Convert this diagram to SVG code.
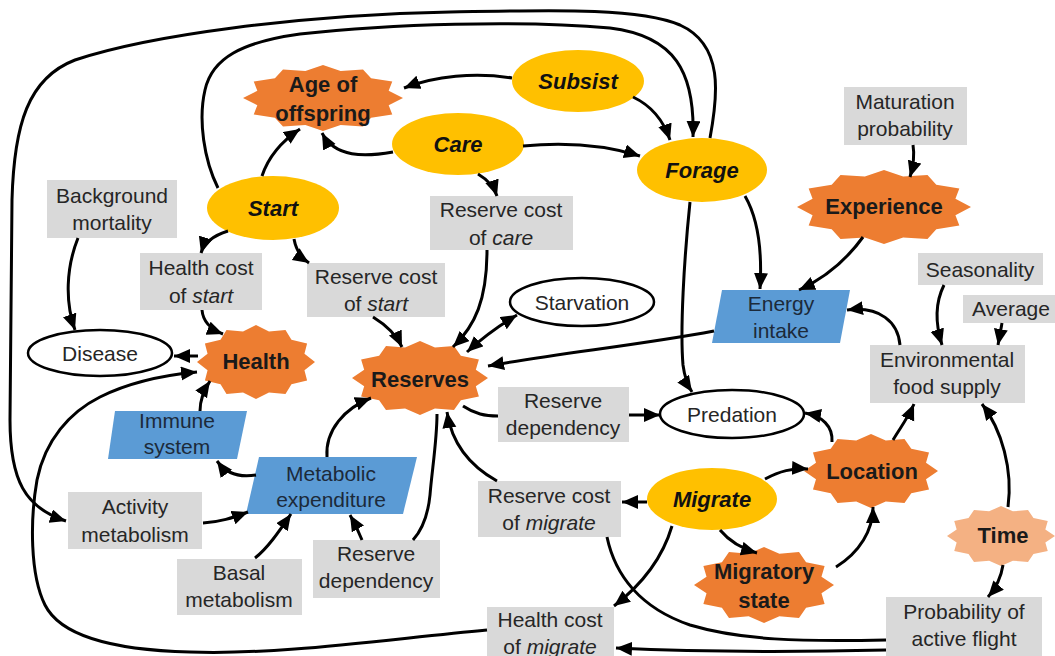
<svg xmlns="http://www.w3.org/2000/svg" xmlns:xlink="http://www.w3.org/1999/xlink" width="1055" height="656" viewBox="0 0 1055 656">
<style>
text{font-family:"Liberation Sans",Arial,sans-serif;font-size:21px;text-anchor:middle;fill:#262626}
.box{fill:#D9D9D9}
.yel{fill:#FFC000}
.org{fill:#ED7D31}
.lorg{fill:#F4B183}
.blue{fill:#5B9BD5}
.wht{fill:#fff;stroke:#000;stroke-width:2.5}
.b{font-weight:bold;fill:#1a1a1a;font-size:22px}
.bi{font-weight:bold;font-style:italic;fill:#111;font-size:22px}
.bt{fill:#1c2a3a}
.c{fill:none;stroke:#000;stroke-width:3}
.a{marker-end:url(#ah)}
.d{marker-start:url(#ah);marker-end:url(#ah)}
</style>
<defs>
<marker id="ah" markerUnits="userSpaceOnUse" markerWidth="17" markerHeight="15" refX="16" refY="7" orient="auto-start-reverse" viewBox="0 0 17 15">
<path d="M0,0 L16,7 L0,14 z" fill="#000"/>
</marker>
<polygon id="star" points="1,0 0.8210,0.2200 0.866,0.5 0.6010,0.6010 0.5,0.866 0.2200,0.8210 0,1 -0.2200,0.8210 -0.5,0.866 -0.6010,0.6010 -0.866,0.5 -0.8210,0.2200 -1,0 -0.8210,-0.2200 -0.866,-0.5 -0.6010,-0.6010 -0.5,-0.866 -0.2200,-0.8210 0,-1 0.2200,-0.8210 0.5,-0.866 0.6010,-0.6010 0.866,-0.5 0.8210,-0.2200"/>
</defs>
<rect width="1055" height="656" fill="#fff"/>

<g id="age-of-offspring"><use xlink:href="#star" class="org" transform="translate(323,98) scale(80,33)"/><text class="b" x="323" y="92">Age of</text><text class="b" x="323" y="121">offspring</text></g>
<g id="subsist"><ellipse class="yel" cx="578" cy="81" rx="66" ry="31"/><text class="bi" x="578" y="89">Subsist</text></g>
<g id="care"><ellipse class="yel" cx="458" cy="144" rx="66" ry="31"/><text class="bi" x="458" y="152">Care</text></g>
<g id="forage"><ellipse class="yel" cx="702" cy="170" rx="65" ry="32"/><text class="bi" x="702" y="178">Forage</text></g>
<g id="start"><ellipse class="yel" cx="273" cy="208" rx="66" ry="32"/><text class="bi" x="273" y="216">Start</text></g>
<g id="migrate"><ellipse class="yel" cx="712" cy="499" rx="65" ry="31"/><text class="bi" x="712" y="507">Migrate</text></g>

<g id="background-mortality"><rect class="box" x="47" y="180" width="130" height="58"/><text x="112" y="203">Background</text><text x="112" y="230">mortality</text></g>
<g id="maturation-probability"><rect class="box" x="844" y="87" width="123" height="58"/><text x="905" y="109">Maturation</text><text x="905" y="136">probability</text></g>
<g id="reserve-cost-care"><rect class="box" x="430" y="196" width="143" height="54"/><text x="501" y="217">Reserve cost</text><text x="501" y="245">of <tspan font-style="italic">care</tspan></text></g>
<g id="health-cost-start"><rect class="box" x="140" y="253" width="122" height="57"/><text x="201" y="275">Health cost</text><text x="201" y="303">of <tspan font-style="italic">start</tspan></text></g>
<g id="reserve-cost-start"><rect class="box" x="307" y="263" width="138" height="54"/><text x="376" y="284">Reserve cost</text><text x="376" y="311">of <tspan font-style="italic">start</tspan></text></g>
<g id="seasonality"><rect class="box" x="918" y="253" width="125" height="32"/><text x="980" y="277">Seasonality</text></g>
<g id="average"><rect class="box" x="963" y="295" width="92" height="28"/><text x="1011" y="316">Average</text></g>
<g id="environmental-food-supply"><rect class="box" x="870" y="345" width="155" height="58"/><text x="947" y="367">Environmental</text><text x="947" y="394">food supply</text></g>
<g id="reserve-dependency-1"><rect class="box" x="498" y="387" width="131" height="55"/><text x="563" y="408">Reserve</text><text x="563" y="435">dependency</text></g>
<g id="reserve-cost-migrate"><rect class="box" x="478" y="481" width="143" height="56"/><text x="549" y="503">Reserve cost</text><text x="549" y="530">of <tspan font-style="italic">migrate</tspan></text></g>
<g id="activity-metabolism"><rect class="box" x="68" y="492" width="134" height="57"/><text x="135" y="514">Activity</text><text x="135" y="542">metabolism</text></g>
<g id="basal-metabolism"><rect class="box" x="177" y="559" width="125" height="56"/><text x="239" y="580">Basal</text><text x="239" y="607">metabolism</text></g>
<g id="reserve-dependency-2"><rect class="box" x="313" y="540" width="127" height="58"/><text x="376" y="561">Reserve</text><text x="376" y="588">dependency</text></g>
<g id="health-cost-migrate"><rect class="box" x="487" y="607" width="127" height="49"/><text x="550" y="627">Health cost</text><text x="550" y="654">of <tspan font-style="italic">migrate</tspan></text></g>
<g id="probability-active-flight"><rect class="box" x="886" y="597" width="156" height="59"/><text x="964" y="619">Probability of</text><text x="964" y="646">active flight</text></g>

<g id="disease"><ellipse class="wht" cx="100" cy="353" rx="72" ry="23"/><text x="100" y="361">Disease</text></g>
<g id="starvation"><ellipse class="wht" cx="582" cy="302" rx="72" ry="24"/><text x="582" y="310">Starvation</text></g>
<g id="predation"><ellipse class="wht" cx="732" cy="414" rx="72" ry="24"/><text x="732" y="422">Predation</text></g>

<g id="experience"><use xlink:href="#star" class="org" transform="translate(884,207) scale(87,37)"/><text class="b" x="884" y="214">Experience</text></g>
<g id="health"><use xlink:href="#star" class="org" transform="translate(256,362) scale(59,37)"/><text class="b" x="256" y="369">Health</text></g>
<g id="reserves"><use xlink:href="#star" class="org" transform="translate(420,378) scale(68,37)"/><text class="b" x="420" y="387">Reserves</text></g>
<g id="location"><use xlink:href="#star" class="org" transform="translate(871,471) scale(67,37)"/><text class="b" x="872" y="479">Location</text></g>
<g id="migratory-state"><use xlink:href="#star" class="org" transform="translate(764,585) scale(70,38)"/><text class="b" x="764" y="579">Migratory</text><text class="b" x="764" y="608">state</text></g>
<g id="time"><use xlink:href="#star" class="lorg" transform="translate(1001,536) scale(54,30)"/><text class="b" x="1003" y="543">Time</text></g>

<g id="energy-intake"><polygon class="blue" points="722,290 850,290 840,343 712,343"/><text class="bt" x="781" y="311">Energy</text><text class="bt" x="781" y="338">intake</text></g>
<g id="immune-system"><polygon class="blue" points="115,411 247,411 237,459 108,459"/><text class="bt" x="177" y="428">Immune</text><text class="bt" x="177" y="454">system</text></g>
<g id="metabolic-expenditure"><polygon class="blue" points="259,457 417,457 403,514 246,514"/><text class="bt" x="331" y="481">Metabolic</text><text class="bt" x="331" y="507">expenditure</text></g>

<g id="connectors">
<path class="c a" d="M512,78 C475,72 435,76 404,88"/>
<path class="c a" d="M633,97 C652,106 664,122 670,140"/>
<path class="c a" d="M393,152 C365,157 335,158 322,133"/>
<path class="c a" d="M523,146 C565,142 605,145 640,156"/>
<path class="c a" d="M478,174 C488,180 494,187 497,196"/>
<path class="c a" d="M262,176 C268,158 282,141 300,129"/>
<path class="c a" d="M218,188 C204,160 198,120 205,90 C212,58 242,42 300,34 C390,24 520,20 610,28 C675,36 695,72 693,137"/>
<path class="c a" d="M710,138 C718,95 724,45 680,25 C640,8 560,10 450,12 C300,15 150,35 75,60 C28,78 14,125 12,200 L10,420 C10,480 25,508 66,521"/>
<path class="c a" d="M228,231 C212,236 204,243 201,253"/>
<path class="c a" d="M294,239 C296,250 300,257 309,263"/>
<path class="c a" d="M78,238 C66,268 65,302 75,330"/>
<path class="c a" d="M202,310 C203,322 210,329 223,334"/>
<path class="c a" d="M198,356 L174,356"/>
<path class="c a" d="M373,317 C386,325 396,334 402,347"/>
<path class="c a" d="M487,250 C487,300 475,326 453,347"/>
<path class="c d" d="M467,352 C480,340 500,325 517,315"/>
<path class="c a" d="M714,331 C640,345 560,353 488,366"/>
<path class="c" d="M463,406 C475,414 485,416 498,416"/>
<path class="c a" d="M629,415 L660,415"/>
<path class="c a" d="M690,202 C684,260 680,330 683,365 C685,380 688,386 692,392"/>
<path class="c a" d="M745,196 C760,222 762,256 760,289"/>
<path class="c a" d="M863,237 C845,262 825,278 799,290"/>
<path class="c a" d="M913,145 C915,157 913,167 910,177"/>
<path class="c a" d="M944,285 C934,305 936,326 942,345"/>
<path class="c a" d="M1002,323 L998,345"/>
<path class="c a" d="M900,345 C898,322 880,306 847,310"/>
<path class="c a" d="M832,442 C833,426 822,416 805,413"/>
<path class="c a" d="M893,440 C900,428 908,418 914,404"/>
<path class="c a" d="M1008,507 C1013,470 1002,430 982,404"/>
<path class="c a" d="M1003,565 C1001,578 996,588 988,597"/>
<path class="c a" d="M836,567 C860,552 873,530 873,507"/>
<path class="c a" d="M765,479 C780,471 792,468 808,469"/>
<path class="c a" d="M720,530 C730,542 743,549 757,553"/>
<path class="c a" d="M647,502 L622,502"/>
<path class="c a" d="M672,526 C662,560 640,586 614,606"/>
<path class="c a" d="M497,481 C470,466 452,445 447,412"/>
<path class="c" d="M437,414 C437,440 432,470 430,495 C428,515 422,530 413,540"/>
<path class="c a" d="M362,540 C358,530 354,522 350,515"/>
<path class="c a" d="M327,457 C325,430 345,408 371,398"/>
<path class="c a" d="M256,475 C238,478 225,472 217,461"/>
<path class="c a" d="M200,411 C200,400 204,390 210,381"/>
<path class="c a" d="M203,523 C220,522 232,518 248,512"/>
<path class="c a" d="M255,558 C268,548 280,530 291,514"/>
<path class="c a" d="M487,630 C380,640 280,655 190,652 C110,650 60,635 45,605 C30,575 30,520 37,480 C45,440 70,412 100,397 C130,382 165,375 197,372"/>
<path class="c a" d="M886,650 C800,652 700,652 616,648"/>
<path class="c" d="M607,537 C615,575 640,608 690,625 C740,640 800,642 886,640"/>
</g>
</svg>
